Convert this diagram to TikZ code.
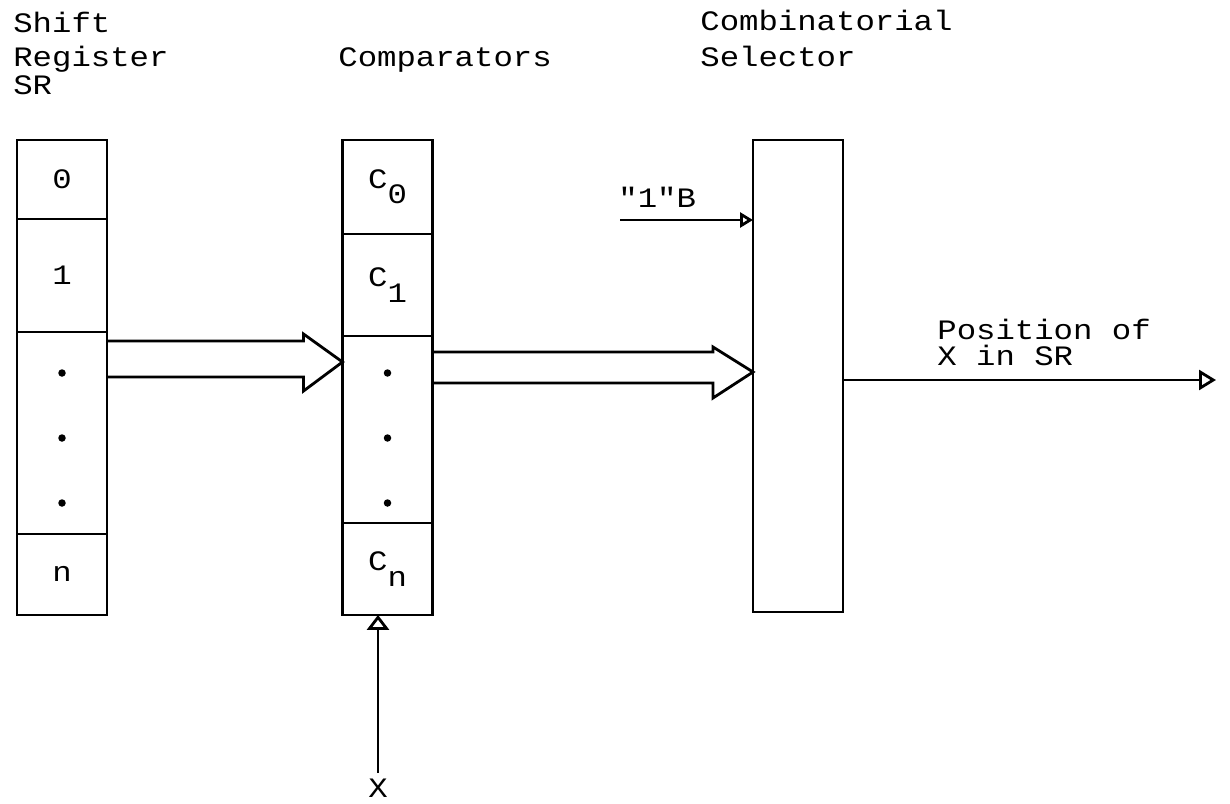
\documentclass[tikz,border=0pt]{standalone}
\usepackage{fontspec}
\setmonofont[FakeStretch=1.15]{Liberation Mono}
\usetikzlibrary{arrows.meta,positioning,calc}

\newcommand{\tw}{\fontsize{16}{18}\selectfont\ttfamily}
\newcommand{\low}[1]{\raisebox{-0.55em}{#1}}

\tikzset{
  cell/.style={draw, line width=1.6pt, minimum width=1.8cm, inner sep=0pt, outer sep=0pt, font=\tw},
  txt/.style={font=\tw, inner sep=0pt, anchor=base west},
  bus/.style={line width=1.6pt, line join=miter},
  sig/.style={line width=1.6pt}
}

\begin{document}
\begin{tikzpicture}[x=0.02cm, y=-0.02cm]
  \useasboundingbox (0,0) rectangle (1230,804);

  % titles
  \node[txt] (shift) at (13,33) {Shift};
  \node[txt] (reg) at (13,67) {Register};
  \node[txt] (srname) at (13,95) {SR};
  \node[txt] (cmpname) at (338,67) {Comparators};
  \node[txt] (comb) at (700,31) {Combinatorial};
  \node[txt] (selname) at (700,67) {Selector};

  % shift register
  \node[cell, minimum height=1.58cm] (sr0) at (62,179.5) {0};
  \node[cell, minimum height=2.26cm, below=0pt of sr0] (sr1) {1};
  \node[cell, minimum height=4.04cm, below=0pt of sr1] (srd) {};
  \node[cell, minimum height=1.62cm, below=0pt of srd] (srn) {n};

  % comparators
  \node[cell, minimum height=1.88cm] (cmp0) at (387.5,187) {C\low{0}};
  \node[cell, minimum height=2.04cm, below=0pt of cmp0] (cmp1) {C\low{1}};
  \node[cell, minimum height=3.74cm, below=0pt of cmp1] (cmpd) {};
  \node[cell, minimum height=1.84cm, below=0pt of cmpd] (cmpn) {C\low{n}};

  % dots
  \foreach \y in {373,438,503} {
    \fill (srd.center |- 0,\y) circle (0.075cm);
    \fill (cmpd.center |- 0,\y) circle (0.075cm);
  }

  % selector
  \node[cell, minimum height=9.44cm] (sel) at (798,376) {};

  % wide arrows
  \coordinate (tipA) at (cmpd.west |- 0,362);
  \draw[bus] ($(srd.east |- tipA)+(0,-21)$) -- ($(tipA)+(-39,-21)$) -- ($(tipA)+(-39,-28)$)
    -- (tipA) -- ($(tipA)+(-39,29)$) -- ($(tipA)+(-39,15)$) -- ($(srd.east |- tipA)+(0,15)$);
  \coordinate (tipB) at (sel.west |- 0,372);
  \draw[bus] ($(cmpd.east |- tipB)+(0,-20)$) -- ($(tipB)+(-40,-20)$) -- ($(tipB)+(-40,-25)$)
    -- (tipB) -- ($(tipB)+(-40,26)$) -- ($(tipB)+(-40,11)$) -- ($(cmpd.east |- tipB)+(0,11)$);

  % "1"B input
  \node[txt] (one) at (618,208) {"1"B};
  \coordinate (bin) at (620,220);
  \draw[sig, -{Triangle[open, length=0.26cm, width=0.3cm]}] (bin) -- (sel.west |- bin);

  % output
  \node[txt] (pos1) at (937,339) {Position of};
  \node[txt] (pos2) at (937,365) {X in SR};
  \coordinate (outend) at (1216,380);
  \draw[sig, -{Triangle[open, length=0.34cm, width=0.4cm]}] (sel.east |- outend) -- (outend);

  % X input
  \node[font=\tw, inner sep=0pt, anchor=base] (xin) at (378,797) {X};
  \draw[sig, -{Triangle[open, length=0.3cm, width=0.44cm]}] (xin.north) ++(0,-5) -- (xin.north |- cmpn.south);
\end{tikzpicture}
\end{document}
